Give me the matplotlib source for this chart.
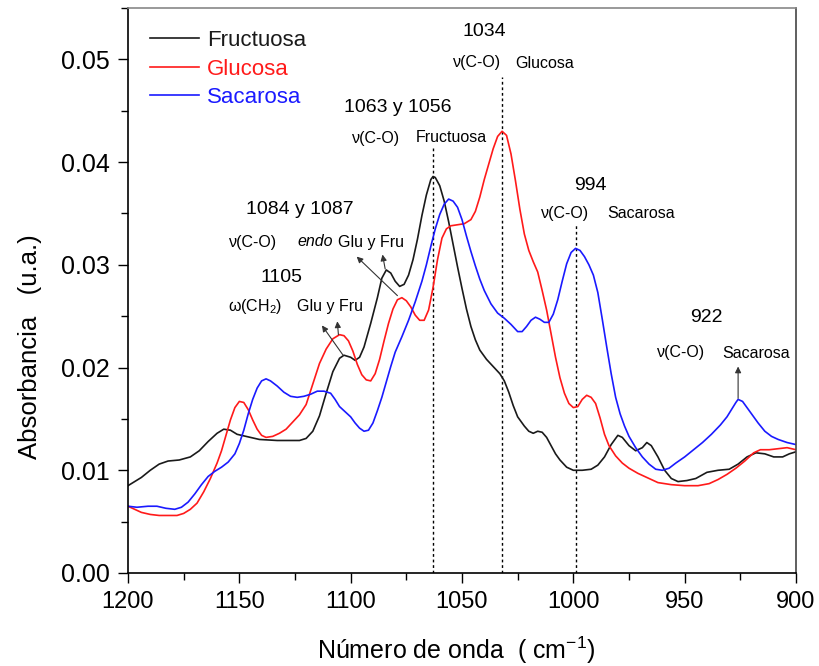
import matplotlib
matplotlib.use("Agg")
import matplotlib.pyplot as plt
from matplotlib.ticker import MultipleLocator, FormatStrFormatter

plt.rcParams['font.family'] = ['Liberation Sans', 'DejaVu Sans']
plt.rcParams['mathtext.fontset'] = 'custom'
plt.rcParams['mathtext.rm'] = 'Liberation Sans'
plt.rcParams['mathtext.it'] = 'Liberation Sans:italic'

# FTIR spectra (wavenumber in cm-1, absorbance in a.u.)
fru_wn = [1200, 1197, 1194, 1190, 1186, 1182, 1177, 1172, 1168, 1164, 1160, 1157,
          1154, 1151, 1147, 1141, 1133, 1128, 1123, 1120, 1117, 1114, 1111, 1108,
          1105, 1103, 1100, 1098, 1096, 1094, 1091, 1088, 1086, 1084, 1082, 1080,
          1078, 1076, 1074, 1072, 1070, 1068, 1066, 1064, 1063, 1062, 1060, 1058,
          1056, 1054, 1052, 1050, 1048, 1046, 1044, 1042, 1039, 1036, 1033, 1031,
          1029, 1027, 1025, 1022, 1020, 1018, 1016, 1014, 1012, 1010, 1008, 1006,
          1003, 1000, 996, 992, 989, 986, 983, 980, 978, 975, 972, 969, 967, 965,
          962, 959, 956, 953, 949, 945, 940, 935, 930, 926, 922, 918, 914, 910,
          906, 903, 900]
fru_abs = [0.0085, 0.0089, 0.0093, 0.0100, 0.0106, 0.0109, 0.0110, 0.0113, 0.0119,
           0.0128, 0.0136, 0.0140, 0.0139, 0.0135, 0.0133, 0.0130, 0.0129, 0.0129,
           0.0129, 0.0131, 0.0138, 0.0153, 0.0175, 0.0196, 0.0209, 0.0212, 0.0210,
           0.0207, 0.0210, 0.0220, 0.0243, 0.0268, 0.0287, 0.0295, 0.0292, 0.0284,
           0.0279, 0.0281, 0.0290, 0.0305, 0.0325, 0.0348, 0.0368, 0.0383, 0.0386,
           0.0385, 0.0377, 0.0362, 0.0342, 0.0320, 0.0298, 0.0277, 0.0257, 0.0240,
           0.0227, 0.0217, 0.0208, 0.0201, 0.0194, 0.0187, 0.0176, 0.0163, 0.0152,
           0.0143, 0.0138, 0.0136, 0.0138, 0.0137, 0.0132, 0.0124, 0.0116, 0.0110,
           0.0103, 0.0100, 0.0100, 0.0101, 0.0105, 0.0113, 0.0125, 0.0134, 0.0132,
           0.0124, 0.0119, 0.0122, 0.0127, 0.0124, 0.0113, 0.0100, 0.0092, 0.0089,
           0.0090, 0.0092, 0.0098, 0.0100, 0.0101, 0.0106, 0.0113, 0.0117, 0.0116,
           0.0113, 0.0113, 0.0116, 0.0118]

glu_wn = [1200, 1197, 1194, 1190, 1186, 1182, 1178, 1175, 1172, 1169, 1166, 1163,
          1160, 1158, 1156, 1154, 1152, 1150, 1148, 1146, 1144, 1142, 1140, 1138,
          1135, 1132, 1129, 1126, 1123, 1120, 1117, 1114, 1111, 1108, 1105, 1103,
          1101, 1099, 1097, 1095, 1093, 1091, 1089, 1087, 1085, 1083, 1081, 1079,
          1077, 1075, 1073, 1071, 1069, 1067, 1065, 1063, 1061, 1059, 1057, 1055,
          1052, 1049, 1046, 1044, 1042, 1040, 1038, 1036, 1034, 1032, 1030, 1028,
          1026, 1024, 1022, 1020, 1018, 1016, 1014, 1012, 1010, 1008, 1006, 1004,
          1002, 1000, 998, 996, 994, 992, 990, 988, 986, 984, 981, 978, 975, 971,
          967, 962, 956, 950, 944, 939, 935, 931, 927, 923, 919, 916, 912, 908,
          904, 902, 900]
glu_abs = [0.0065, 0.0062, 0.0059, 0.0057, 0.0056, 0.0056, 0.0056, 0.0058, 0.0062,
           0.0068, 0.0079, 0.0092, 0.0107, 0.0119, 0.0134, 0.0149, 0.0161, 0.0167,
           0.0166, 0.0159, 0.0149, 0.0140, 0.0134, 0.0132, 0.0133, 0.0136, 0.0140,
           0.0147, 0.0154, 0.0164, 0.0184, 0.0204, 0.0218, 0.0228, 0.0232, 0.0231,
           0.0226, 0.0216, 0.0203, 0.0193, 0.0188, 0.0187, 0.0194, 0.0208, 0.0226,
           0.0243, 0.0257, 0.0266, 0.0268, 0.0265, 0.0259, 0.0251, 0.0246, 0.0246,
           0.0256, 0.0278, 0.0305, 0.0326, 0.0335, 0.0338, 0.0339, 0.0340, 0.0344,
           0.0352, 0.0366, 0.0383, 0.0398, 0.0413, 0.0425, 0.0430, 0.0426, 0.0408,
           0.0382, 0.0354, 0.0330, 0.0314, 0.0303, 0.0293, 0.0275, 0.0256, 0.0233,
           0.0210, 0.0190, 0.0175, 0.0165, 0.0161, 0.0162, 0.0169, 0.0173, 0.0171,
           0.0165, 0.0151, 0.0135, 0.0124, 0.0114, 0.0107, 0.0102, 0.0097, 0.0093,
           0.0088, 0.0086, 0.0085, 0.0085, 0.0087, 0.0091, 0.0096, 0.0102, 0.0109,
           0.0117, 0.0120, 0.0120, 0.0121, 0.0122, 0.0121, 0.0120]

sac_wn = [1200, 1196, 1191, 1187, 1183, 1179, 1176, 1173, 1170, 1167, 1164, 1161,
          1158, 1155, 1152, 1150, 1148, 1146, 1144, 1142, 1140, 1138, 1136, 1133,
          1130, 1127, 1124, 1121, 1118, 1115, 1112, 1109, 1107, 1105, 1102, 1100,
          1098, 1096, 1094, 1092, 1090, 1088, 1086, 1084, 1082, 1080, 1077, 1074,
          1071, 1068, 1066, 1064, 1062, 1060, 1058, 1056, 1054, 1052, 1050, 1048,
          1046, 1044, 1042, 1040, 1037, 1034, 1031, 1028, 1025, 1023, 1021, 1019,
          1017, 1015, 1013, 1011, 1009, 1007, 1005, 1003, 1001, 999, 997, 995, 993,
          991, 989, 987, 985, 983, 981, 979, 977, 975, 972, 969, 966, 963, 960,
          957, 954, 950, 946, 942, 938, 934, 931, 929, 927, 926, 924, 922, 920,
          917, 914, 911, 908, 904, 900]
sac_abs = [0.0065, 0.0064, 0.0065, 0.0065, 0.0063, 0.0062, 0.0064, 0.0069, 0.0077,
           0.0086, 0.0094, 0.0099, 0.0103, 0.0108, 0.0116, 0.0126, 0.0139, 0.0155,
           0.0169, 0.0180, 0.0187, 0.0189, 0.0187, 0.0182, 0.0176, 0.0172, 0.0171,
           0.0172, 0.0174, 0.0177, 0.0177, 0.0175, 0.0169, 0.0162, 0.0156, 0.0152,
           0.0146, 0.0141, 0.0138, 0.0139, 0.0146, 0.0158, 0.0171, 0.0186, 0.0201,
           0.0215, 0.0230, 0.0246, 0.0264, 0.0284, 0.0300, 0.0318, 0.0335, 0.0349,
           0.0359, 0.0364, 0.0362, 0.0356, 0.0344, 0.0328, 0.0313, 0.0299, 0.0286,
           0.0275, 0.0262, 0.0253, 0.0248, 0.0242, 0.0235, 0.0235, 0.0240, 0.0246,
           0.0249, 0.0247, 0.0244, 0.0244, 0.0252, 0.0266, 0.0284, 0.0301, 0.0312,
           0.0316, 0.0314, 0.0308, 0.0300, 0.0290, 0.0273, 0.0247, 0.0220, 0.0194,
           0.0171, 0.0155, 0.0143, 0.0133, 0.0122, 0.0113, 0.0106, 0.0101, 0.0100,
           0.0102, 0.0107, 0.0113, 0.0120, 0.0127, 0.0135, 0.0144, 0.0152, 0.0159,
           0.0166, 0.0169, 0.0167, 0.0161, 0.0155, 0.0146, 0.0138, 0.0133, 0.0130,
           0.0127, 0.0125]

series_names = ['Fructuosa', 'Glucosa', 'Sacarosa']
series_colors = ['#1a1a1a', '#ff1a1a', '#1a1aff']

# marked bands: wavenumber and the top of the dotted guide
band_wn = [1063, 1032, 999]
band_top = [0.0414, 0.0483, 0.0341]

W, H = 820, 666
fig = plt.figure(figsize=(W / 100, H / 100), dpi=100)
ax = fig.add_axes([128 / W, 1 - 573 / H, (796 - 128) / W, (573 - 8) / H])


def fpos(x, y):
    return x / W, 1 - y / H


for wn, ab, name, col in zip([fru_wn, glu_wn, sac_wn], [fru_abs, glu_abs, sac_abs],
                             series_names, series_colors):
    ax.plot(wn, ab, color=col, lw=1.2, label=name, solid_joinstyle='round')

for wn, top in zip(band_wn, band_top):
    ax.vlines(wn, 0, top, colors='black', linestyles=(0, (2, 2)), lw=1.0, zorder=1)

ax.set_xlim(1200, 900)
ax.set_ylim(0, 0.055)
ax.xaxis.set_major_locator(MultipleLocator(50))
ax.xaxis.set_minor_locator(MultipleLocator(25))
ax.yaxis.set_major_locator(MultipleLocator(0.01))
ax.yaxis.set_minor_locator(MultipleLocator(0.005))
ax.yaxis.set_major_formatter(FormatStrFormatter('%.2f'))
ax.tick_params(which='major', direction='out', length=7, width=1.0,
               top=False, right=False)
ax.tick_params(which='minor', direction='out', length=5, width=1.0,
               top=False, right=False)
ax.tick_params(axis='x', pad=6, labelsize=17)
ax.tick_params(axis='y', pad=6, labelsize=18)
ax.spines['top'].set_color('#888888')
ax.spines['right'].set_color('#444444')
for s in ax.spines.values():
    s.set_linewidth(1.2)

fig.text(*fpos(30, 347), 'Absorbancia   (u.a.)', rotation=90, ha='center', va='center',
         fontsize=18.5)
fig.text(*fpos(456, 650), 'Número de onda  ( cm$^{-1}$)', ha='center', va='center',
         fontsize=18)

leg = ax.legend(loc='upper left', bbox_to_anchor=fpos(150, 30),
                bbox_transform=fig.transFigure, frameon=False, fontsize=16,
                handlelength=2.2, handletextpad=0.35, labelspacing=0.34,
                borderpad=0, borderaxespad=0, labelcolor='linecolor')

num_fs = 14
lab_fs = 11.5


def label(x, y, s, ha='center', **kw):
    fig.text(*fpos(x, y), s, ha=ha, va='center', **kw)


label(484, 32, '1034', fontsize=num_fs)
label(453, 63, 'ν(C-O)', ha='left', fontsize=lab_fs)
label(515, 63, 'Glucosa', ha='left', fontsize=lab_fs)

label(398, 107, '1063 y 1056', fontsize=num_fs)
label(352, 138, 'ν(C-O)', ha='left', fontsize=lab_fs)
label(416, 138, 'Fructuosa', ha='left', fontsize=lab_fs)

label(300, 210, '1084 y 1087', fontsize=num_fs)
label(229, 242, 'ν(C-O)', ha='left', fontsize=lab_fs)
label(297, 242, 'endo', ha='left', fontsize=lab_fs, style='italic')
label(338, 242, 'Glu y Fru', ha='left', fontsize=lab_fs)

label(282, 278, '1105', fontsize=num_fs)
label(228, 307, 'ω(CH$_2$)', ha='left', fontsize=lab_fs)
label(297, 307, 'Glu y Fru', ha='left', fontsize=lab_fs)

label(590, 185, '994', fontsize=num_fs)
label(541, 213, 'ν(C-O)', ha='left', fontsize=lab_fs)
label(607, 213, 'Sacarosa', ha='left', fontsize=lab_fs)

label(706, 318, '922', fontsize=num_fs)
label(657, 353, 'ν(C-O)', ha='left', fontsize=lab_fs)
label(722, 353, 'Sacarosa', ha='left', fontsize=lab_fs)

# arrows from band maxima towards their labels: (tail, head) in data units
arrows = [((1103.4, 0.0212), (1112.9, 0.0241)),
          ((1105.5, 0.0232), (1106.0, 0.0245)),
          ((1079.0, 0.0270), (1097.3, 0.0308)),
          ((1084.5, 0.0296), (1085.7, 0.0310)),
          ((926.0, 0.0170), (926.0, 0.0201))]
for tail, head in arrows:
    ax.annotate('', xy=head, xytext=tail,
                arrowprops=dict(arrowstyle='-|>', color='#333333', lw=0.8,
                                mutation_scale=9, shrinkA=0, shrinkB=0))

fig.savefig('out.png', dpi=100)
